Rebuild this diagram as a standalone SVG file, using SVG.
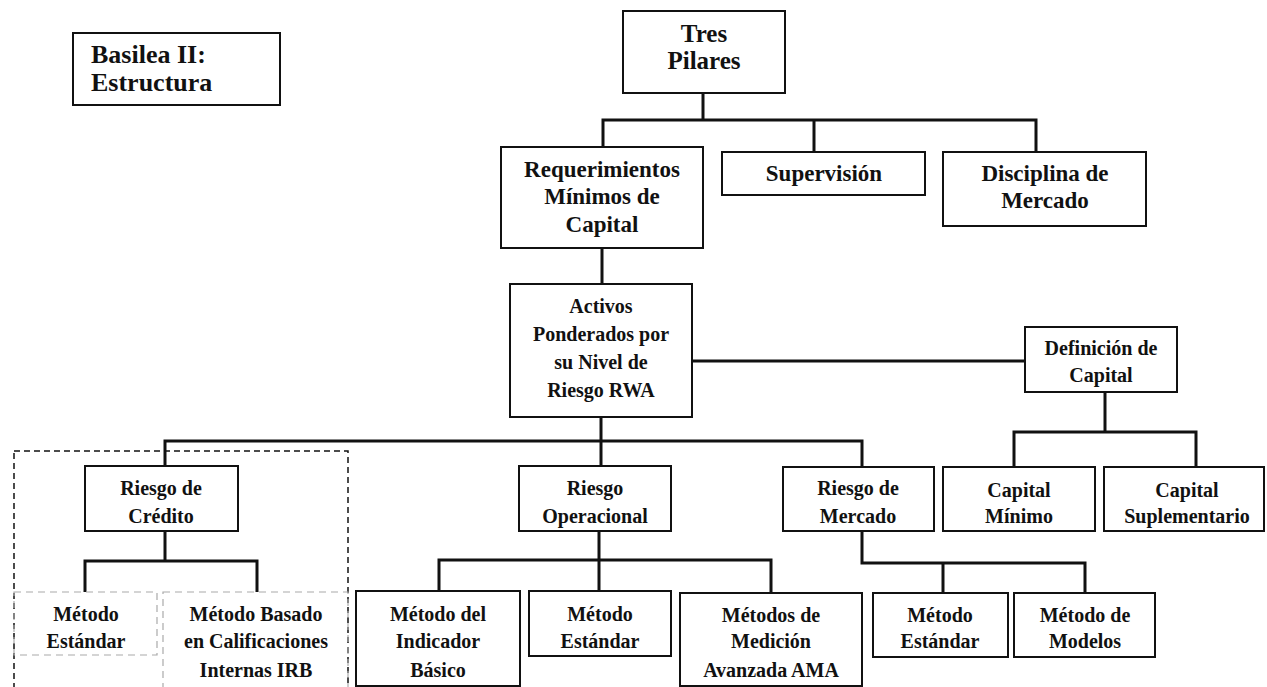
<svg xmlns="http://www.w3.org/2000/svg" width="1267" height="687" viewBox="0 0 1267 687">
<style>
  .box{fill:#fff;stroke:#111;stroke-width:2}
  .faint{fill:none;stroke:#aaa;stroke-width:1.2;stroke-dasharray:7 5}
  .con{fill:none;stroke:#111;stroke-width:3;stroke-linejoin:miter}
  text{font-family:"Liberation Serif","Times New Roman",serif;font-weight:bold;fill:#111;text-anchor:middle}
  .t26{font-size:26px}
  .t25{font-size:25px}
  .t23{font-size:23px}
  .t20{font-size:20px}
</style>
<rect width="1267" height="687" fill="#fff"/>
<g id="connectors">
  <path class="con" d="M703,93 V120"/>
  <path class="con" d="M603,147 V120 H1036 V152"/>
  <path class="con" d="M814,120 V152"/>
  <path class="con" d="M602,248 V284"/>
  <path class="con" d="M692,361 H1025"/>
  <path class="con" d="M601,417 V466"/>
  <path class="con" d="M165,466 V441 H862 V467"/>
  <path class="con" d="M165,531 V561"/>
  <path class="con" d="M85,592 V561 H257 V592"/>
  <path class="con" d="M599,531 V591"/>
  <path class="con" d="M439,591 V560 H771 V593"/>
  <path class="con" d="M862,531 V563 H1085 V593"/>
  <path class="con" d="M943,563 V593"/>
  <path class="con" d="M1105,392 V432"/>
  <path class="con" d="M1014,467 V432 H1196 V467"/>
</g>
<g id="credit-group">
  <rect x="14" y="451" width="334" height="240" fill="none" stroke="#111" stroke-width="1.5" stroke-dasharray="6 4"/>
</g>
<g id="basilea">
  <rect class="box" x="73" y="33" width="207" height="72"/>
  <text class="t26" x="91" y="63" style="text-anchor:start">Basilea II:</text>
  <text class="t26" x="91" y="91" style="text-anchor:start">Estructura</text>
</g>
<g id="tres-pilares">
  <rect class="box" x="623" y="11" width="162" height="82"/>
  <text class="t25" x="704" y="42">Tres</text>
  <text class="t25" x="704" y="69">Pilares</text>
</g>
<g id="requerimientos">
  <rect class="box" x="501" y="147" width="202" height="101"/>
  <text class="t23" x="602" y="177">Requerimientos</text>
  <text class="t23" x="602" y="204">Mínimos de</text>
  <text class="t23" x="602" y="232">Capital</text>
</g>
<g id="supervision">
  <rect class="box" x="722" y="152" width="203" height="43"/>
  <text class="t23" x="824" y="181">Supervisión</text>
</g>
<g id="disciplina">
  <rect class="box" x="943" y="152" width="203" height="74"/>
  <text class="t23" x="1045" y="181">Disciplina de</text>
  <text class="t23" x="1045" y="208">Mercado</text>
</g>
<g id="activos">
  <rect class="box" x="510" y="284" width="182" height="133"/>
  <text class="t20" x="601" y="313">Activos</text>
  <text class="t20" x="601" y="341">Ponderados por</text>
  <text class="t20" x="601" y="369">su Nivel de</text>
  <text class="t20" x="601" y="397">Riesgo RWA</text>
</g>
<g id="definicion">
  <rect class="box" x="1025" y="327" width="152" height="65"/>
  <text class="t20" x="1101" y="355">Definición de</text>
  <text class="t20" x="1101" y="382">Capital</text>
</g>
<g id="riesgo-credito">
  <rect class="box" x="85" y="466" width="153" height="65"/>
  <text class="t20" x="161" y="495">Riesgo de</text>
  <text class="t20" x="161" y="523">Crédito</text>
</g>
<g id="riesgo-operacional">
  <rect class="box" x="519" y="466" width="152" height="65"/>
  <text class="t20" x="595" y="495">Riesgo</text>
  <text class="t20" x="595" y="523">Operacional</text>
</g>
<g id="riesgo-mercado">
  <rect class="box" x="783" y="467" width="151" height="64"/>
  <text class="t20" x="858" y="495">Riesgo de</text>
  <text class="t20" x="858" y="523">Mercado</text>
</g>
<g id="capital-minimo">
  <rect class="box" x="943" y="467" width="152" height="64"/>
  <text class="t20" x="1019" y="497">Capital</text>
  <text class="t20" x="1019" y="523">Mínimo</text>
</g>
<g id="capital-suplementario">
  <rect class="box" x="1104" y="467" width="160" height="64"/>
  <text class="t20" x="1187" y="497">Capital</text>
  <text class="t20" x="1187" y="523">Suplementario</text>
</g>
<g id="metodo-estandar-credito">
  <rect class="faint" x="14" y="592" width="143" height="63"/>
  <text class="t20" x="86" y="621">Método</text>
  <text class="t20" x="86" y="648">Estándar</text>
</g>
<g id="metodo-irb">
  <rect class="faint" x="163" y="592" width="185" height="98"/>
  <text class="t20" x="256" y="621">Método Basado</text>
  <text class="t20" x="256" y="648">en Calificaciones</text>
  <text class="t20" x="256" y="677">Internas IRB</text>
</g>
<g id="metodo-indicador-basico">
  <rect class="box" x="356" y="591" width="164" height="95"/>
  <text class="t20" x="438" y="621">Método del</text>
  <text class="t20" x="438" y="648">Indicador</text>
  <text class="t20" x="438" y="677">Básico</text>
</g>
<g id="metodo-estandar-operacional">
  <rect class="box" x="529" y="591" width="142" height="65"/>
  <text class="t20" x="600" y="621">Método</text>
  <text class="t20" x="600" y="648">Estándar</text>
</g>
<g id="metodos-ama">
  <rect class="box" x="680" y="593" width="182" height="93"/>
  <text class="t20" x="771" y="622">Métodos de</text>
  <text class="t20" x="771" y="648">Medición</text>
  <text class="t20" x="771" y="677">Avanzada AMA</text>
</g>
<g id="metodo-estandar-mercado">
  <rect class="box" x="873" y="593" width="135" height="64"/>
  <text class="t20" x="940" y="622">Método</text>
  <text class="t20" x="940" y="648">Estándar</text>
</g>
<g id="metodo-modelos">
  <rect class="box" x="1014" y="593" width="141" height="64"/>
  <text class="t20" x="1085" y="622">Método de</text>
  <text class="t20" x="1085" y="648">Modelos</text>
</g>
</svg>
